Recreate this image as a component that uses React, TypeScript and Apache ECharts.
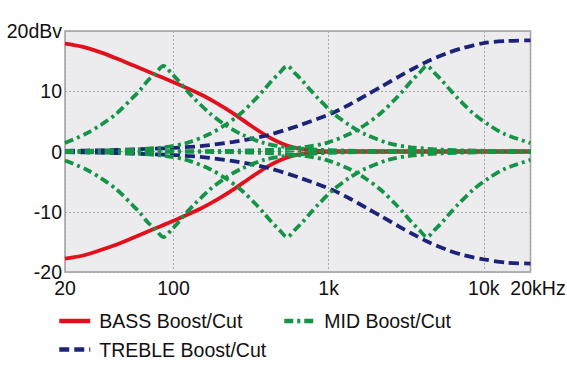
import React, { useEffect, useRef } from "react";
import * as echarts from "echarts";

const FONT = "'Liberation Sans', Arial, Helvetica, sans-serif";

const RED = "#e2101d";
const NAVY = "#1c2479";
const GREEN = "#149447";

const BASS = "BASS Boost/Cut";
const MID = "MID Boost/Cut";
const TREBLE = "TREBLE Boost/Cut";

// Y tick labels
const yTickLabels: Record<string, string> = { "20": "20dBv", "10": "10", "0": "0", "-10": "-10", "-20": "-20" };
// X tick labels
const xTickLabels: Record<number, string> = { 20: "20", 100: "100", 1000: "1k", 10000: "10k", 20000: "20kHz" };

// BASS
const bassFreq = [20, 25.7, 33.6, 43.5, 55, 74, 100, 149, 191, 244, 313, 404, 490, 568, 710, 875, 1093, 2000, 5000, 10000, 20000];
const bassBoost = [17.9, 17.4, 16.5, 15.4, 14.3, 12.9, 11.5, 9.5, 8.0, 6.3, 4.35, 2.5, 1.4, 0.8, 0.3, 0.1, 0, 0, 0, 0, 0];
const bassCut = [-17.8, -17.3, -16.4, -15.4, -14.3, -12.9, -11.5, -9.5, -8.0, -6.3, -4.35, -2.5, -1.4, -0.8, -0.3, -0.1, 0, 0, 0, 0, 0];

// TREBLE
const trebleFreq = [20, 33.6, 55, 91, 149, 244, 404, 650, 1060, 1366, 1760, 2230, 2870, 3480, 4290, 5770, 7400, 10000, 14100, 20000];
const trebleBoost = [0.1, 0.2, 0.35, 0.55, 0.9, 1.6, 2.7, 4.35, 6.4, 7.8, 9.4, 10.9, 12.5, 13.7, 14.9, 16.3, 17.2, 18.0, 18.35, 18.45];
const trebleCut = [-0.1, -0.2, -0.35, -0.55, -0.9, -1.6, -2.7, -4.35, -6.4, -7.8, -9.4, -10.9, -12.5, -13.7, -14.9, -16.3, -17.2, -17.9, -18.45, -18.6];

// MID flat
const midFlatFreq = [20, 20000];
const midFlat = [0, 0];

// MID low (peak ~86 Hz)
const midLowFreq = [20, 27, 34, 43, 54, 61, 68, 77, 86, 97, 108, 121, 136, 172, 216, 272, 384, 542, 860, 1716, 20000];
const midLowBoost = [1.4, 2.9, 4.4, 6.3, 8.8, 10.2, 11.7, 13.0, 14.2, 13.0, 11.7, 10.2, 8.8, 6.3, 4.4, 2.9, 1.4, 0.7, 0.3, 0.1, 0];
const midLowCut = [-1.5, -2.9, -4.4, -6.3, -8.8, -10.2, -11.7, -13.0, -14.2, -13.0, -11.7, -10.2, -8.8, -6.3, -4.4, -2.9, -1.4, -0.7, -0.3, -0.1, 0];

// MID mid (peak ~540 Hz)
const midMidFreq = [20, 54, 86, 121, 171, 215, 271, 341, 382, 429, 481, 540, 606, 680, 763, 856, 1078, 1356, 1708, 2412, 3407, 5400, 10774, 20000];
const midMidBoost = [0.05, 0.3, 0.7, 1.4, 2.9, 4.4, 6.3, 8.8, 10.2, 11.7, 13.0, 14.2, 13.0, 11.7, 10.2, 8.8, 6.3, 4.4, 2.9, 1.4, 0.7, 0.3, 0.1, 0.05];
const midMidCut = [-0.05, -0.3, -0.7, -1.4, -2.9, -4.4, -6.3, -8.8, -10.2, -11.7, -13.0, -14.2, -13.0, -11.7, -10.2, -8.8, -6.3, -4.4, -2.9, -1.4, -0.7, -0.3, -0.1, -0.05];

// MID high (peak ~4.3 kHz)
const midHighFreq = [20, 215, 430, 682, 963, 1360, 1712, 2155, 2713, 3045, 3416, 3832, 4300, 4825, 5413, 6074, 6815, 8580, 10800, 13598, 20000];
const midHighBoost = [0, 0.1, 0.3, 0.7, 1.4, 2.9, 4.4, 6.3, 8.8, 10.2, 11.7, 13.0, 14.2, 13.0, 11.7, 10.2, 8.8, 6.3, 4.4, 2.9, 1.4];
const midHighCut = [0, -0.1, -0.3, -0.7, -1.4, -2.9, -4.4, -6.3, -8.8, -10.2, -11.7, -13.0, -14.2, -13.0, -11.7, -10.2, -8.8, -6.3, -4.4, -2.9, -1.4];

const DASH: number[] = [10, 5];
const DASHDOT: number[] = [9, 4, 3, 4];

function mk(name: string, freqs: number[], vals: number[], color: string, type: any, width: number, z: number) {
  return {
    type: "line",
    name,
    data: freqs.map((f, i) => [f, vals[i]]),
    symbol: "none",
    smooth: 0.3,
    silent: true,
    z,
    lineStyle: { color, width, type },
    itemStyle: { color },
  };
}

export default function App() {
  const ref = useRef<HTMLDivElement>(null);
  useEffect(() => {
    if (!ref.current) return;
    const chart = echarts.init(ref.current, null, { renderer: "svg" });
    const legendCommon = {
      itemWidth: 31,
      itemHeight: 14,
      padding: 0,
      selectedMode: false,
      itemStyle: { opacity: 0 },
      lineStyle: { width: 4.5 },
      textStyle: { fontSize: 19.5, color: "#111", fontFamily: FONT, padding: [0, 0, 0, 4], lineHeight: 22 },
    };
    chart.setOption({
      animation: false,
      backgroundColor: "#ffffff",
      textStyle: { fontFamily: FONT },
      grid: {
        left: 65,
        top: 31,
        right: 36.5,
        bottom: 108,
        show: true,
        backgroundColor: "#ececef",
        borderColor: "#9d9d9d",
        borderWidth: 1.5,
        containLabel: false,
        outerBoundsMode: "none",
      },
      legend: [
        { ...legendCommon, left: 57, top: 310, data: [BASS] },
        { ...legendCommon, left: 282, top: 310, data: [MID] },
        { ...legendCommon, left: 57, top: 338.5, data: [TREBLE] },
      ],
      xAxis: {
        type: "log",
        logBase: 10,
        min: 20,
        max: 20000,
        axisLine: { show: false },
        axisTick: { show: false },
        minorTick: { show: false },
        splitLine: { show: true, lineStyle: { color: "#a8a8a8", type: [2, 2], width: 1 } },
        axisLabel: {
          margin: 6,
          fontSize: 19.5,
          color: "#111",
          fontFamily: FONT,
          showMinLabel: true,
          showMaxLabel: true,
          formatter: (v: number) => {
            const r = Math.round(v);
            if (r === 20000) return "{hz|" + xTickLabels[r] + "}";
            return xTickLabels[r] ?? "";
          },
          rich: { hz: { fontSize: 19.5, color: "#111", fontFamily: FONT, padding: [0, 0, 0, 15] } },
        },
      },
      yAxis: {
        type: "value",
        min: -20,
        max: 20,
        interval: 10,
        axisLine: { show: false },
        axisTick: { show: false },
        splitLine: { show: true, lineStyle: { color: "#a8a8a8", type: [2, 2], width: 1 } },
        axisLabel: {
          margin: 3,
          fontSize: 19.5,
          color: "#111",
          fontFamily: FONT,
          formatter: (v: number) => yTickLabels[String(v)] ?? String(v),
        },
      },
      series: [
        mk(BASS, bassFreq, bassBoost, RED, "solid", 3.8, 2),
        mk(BASS, bassFreq, bassCut, RED, "solid", 3.8, 2),
        mk(TREBLE, trebleFreq, trebleBoost, NAVY, DASH, 3.8, 3),
        mk(TREBLE, trebleFreq, trebleCut, NAVY, DASH, 3.8, 3),
        mk(MID, midFlatFreq, midFlat, GREEN, DASHDOT, 2, 4),
        mk(MID, midLowFreq, midLowBoost, GREEN, DASHDOT, 3.8, 4),
        mk(MID, midLowFreq, midLowCut, GREEN, DASHDOT, 3.8, 4),
        mk(MID, midMidFreq, midMidBoost, GREEN, DASHDOT, 3.8, 4),
        mk(MID, midMidFreq, midMidCut, GREEN, DASHDOT, 3.8, 4),
        mk(MID, midHighFreq, midHighBoost, GREEN, DASHDOT, 3.8, 4),
        mk(MID, midHighFreq, midHighCut, GREEN, DASHDOT, 3.8, 4),
      ],
    });
    return () => chart.dispose();
  }, []);
  return (
    <div
      ref={ref}
      style={{ position: "fixed", left: 0, top: 0, width: 567, height: 380, background: "#fff" }}
    />
  );
}
